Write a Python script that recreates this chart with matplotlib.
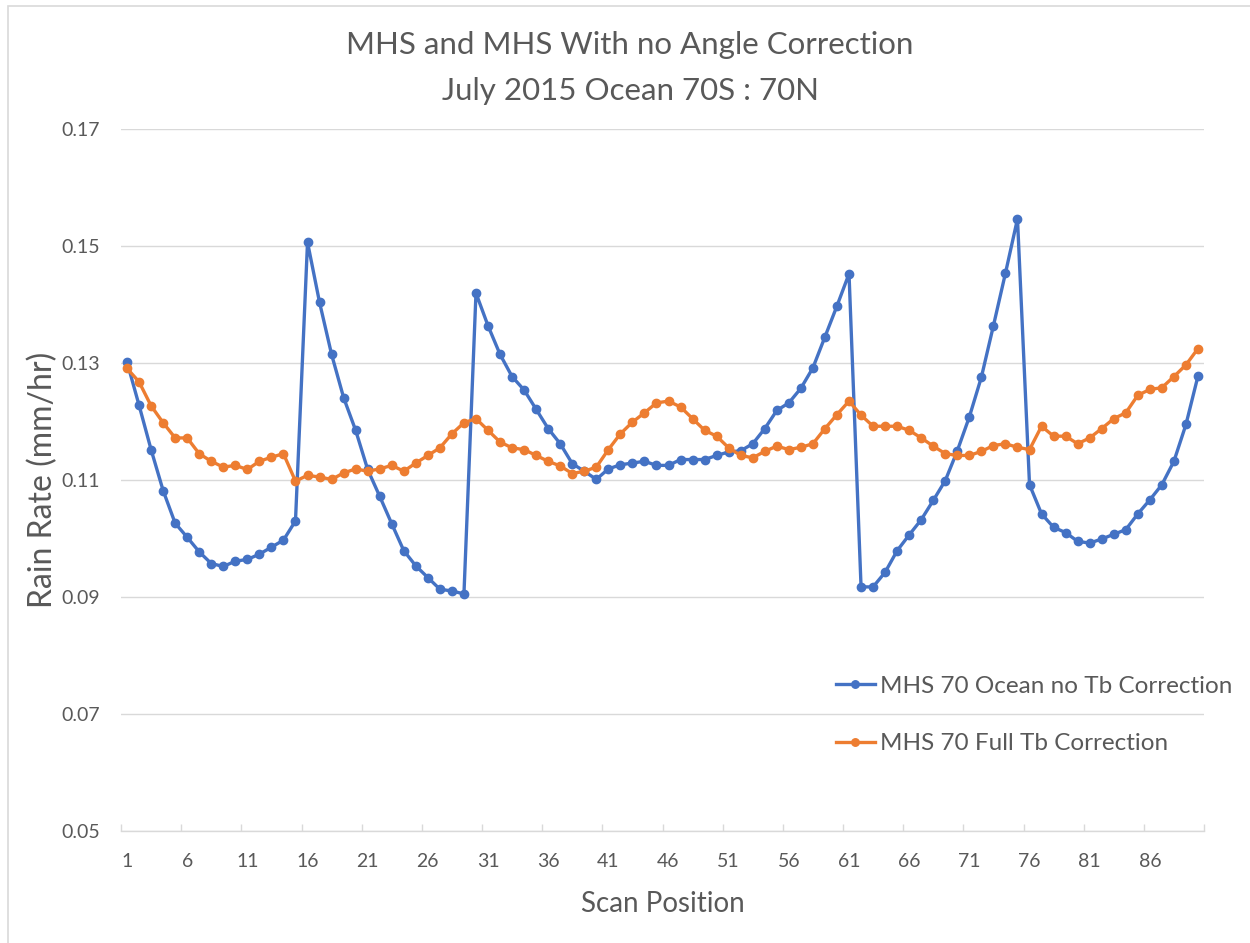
import numpy as np
import matplotlib
matplotlib.use('Agg')
import matplotlib.pyplot as plt

# data
scan_pos = np.arange(1, 91)
no_tb_corr = [
    0.1302, 0.1228, 0.1152, 0.1082, 0.1026, 0.1002, 0.0977, 0.0957, 0.0952, 0.0961,
    0.0964, 0.0973, 0.0985, 0.0997, 0.1030, 0.1507, 0.1404, 0.1315, 0.1241, 0.1185,
    0.1118, 0.1072, 0.1025, 0.0979, 0.0953, 0.0933, 0.0913, 0.0910, 0.0905, 0.1420,
    0.1364, 0.1315, 0.1277, 0.1254, 0.1221, 0.1188, 0.1162, 0.1128, 0.1115, 0.1101,
    0.1119, 0.1126, 0.1129, 0.1132, 0.1125, 0.1125, 0.1135, 0.1135, 0.1135, 0.1142,
    0.1148, 0.1150, 0.1162, 0.1188, 0.1219, 0.1232, 0.1257, 0.1292, 0.1345, 0.1398,
    0.1453, 0.0917, 0.0917, 0.0942, 0.0979, 0.1006, 0.1032, 0.1065, 0.1099, 0.1150,
    0.1208, 0.1276, 0.1364, 0.1454, 0.1547, 0.1092, 0.1042, 0.1019, 0.1010, 0.0995,
    0.0992, 0.0999, 0.1007, 0.1015, 0.1042, 0.1066, 0.1092, 0.1132, 0.1195, 0.1278,
]
full_tb_corr = [
    0.1291, 0.1268, 0.1227, 0.1198, 0.1172, 0.1172, 0.1145, 0.1132, 0.1122, 0.1125,
    0.1118, 0.1132, 0.1139, 0.1145, 0.1098, 0.1108, 0.1105, 0.1101, 0.1112, 0.1119,
    0.1115, 0.1119, 0.1125, 0.1115, 0.1129, 0.1142, 0.1155, 0.1179, 0.1198, 0.1205,
    0.1185, 0.1165, 0.1155, 0.1152, 0.1142, 0.1132, 0.1124, 0.1111, 0.1115, 0.1122,
    0.1152, 0.1179, 0.1199, 0.1215, 0.1232, 0.1235, 0.1225, 0.1205, 0.1185, 0.1175,
    0.1155, 0.1142, 0.1138, 0.1149, 0.1158, 0.1152, 0.1156, 0.1162, 0.1188, 0.1212,
    0.1235, 0.1211, 0.1192, 0.1192, 0.1192, 0.1185, 0.1172, 0.1158, 0.1145, 0.1142,
    0.1142, 0.1149, 0.1159, 0.1162, 0.1156, 0.1152, 0.1192, 0.1175, 0.1175, 0.1162,
    0.1172, 0.1188, 0.1205, 0.1215, 0.1245, 0.1255, 0.1258, 0.1277, 0.1297, 0.1325,
]
xtick_labels = [str(i) for i in range(1, 91, 5)]
yticks = [0.05, 0.07, 0.09, 0.11, 0.13, 0.15, 0.17]

plt.rcParams['font.family'] = ['Lato', 'DejaVu Sans']
txt = '#595959'
grid = '#D9D9D9'

fig = plt.figure(figsize=(12.5, 9.43), dpi=100)
ax = fig.add_axes([0.0968, 0.1193, 0.8664, 0.7434])

# chart border
fig.patches.append(plt.Rectangle((8 / 1250, -0.01), 1.02, 1 - 6 / 943 + 0.01,
                                 transform=fig.transFigure, fill=False,
                                 edgecolor=grid, linewidth=1.2))

ax.plot(scan_pos, no_tb_corr, color='#4472C4', lw=2.4, marker='o', ms=6,
        label='MHS 70 Ocean no Tb Correction')
ax.plot(scan_pos, full_tb_corr, color='#ED7D31', lw=2.4, marker='o', ms=6,
        label='MHS 70 Full Tb Correction')

ax.set_xlim(0.5, 90.5)
ax.set_ylim(0.05, 0.17)
ax.set_yticks(yticks)
ax.set_yticklabels([f'{v:.2f}' for v in yticks])
ax.set_xticks(range(1, 91, 5))
ax.set_xticklabels(xtick_labels)
ax.set_xticks(np.arange(0.5, 91, 5), minor=True)
ax.tick_params(axis='x', which='major', length=0, pad=16, labelsize=14, labelcolor=txt)
ax.tick_params(axis='x', which='minor', length=5, direction='in', color=grid, width=1)
ax.tick_params(axis='y', length=0, pad=15, labelsize=14, labelcolor=txt)
ax.grid(axis='y', color=grid, lw=1)
ax.set_axisbelow(True)
for s in ['top', 'right', 'left']:
    ax.spines[s].set_visible(False)
ax.spines['bottom'].set_color(grid)
ax.spines['bottom'].set_linewidth(1)

ax.set_xlabel('Scan Position', fontsize=20, color=txt, labelpad=15)
ax.set_ylabel('Rain Rate (mm/hr)', fontsize=23, color=txt, labelpad=2)

fig.text(0.504, 0.952, 'MHS and MHS With no Angle Correction', ha='center', va='center',
         fontsize=22.5, color=txt)
fig.text(0.504, 0.904, 'July 2015 Ocean 70S : 70N', ha='center', va='center',
         fontsize=22.5, color=txt)

ax.legend(loc='upper left', bbox_to_anchor=(0.64, 0.252), frameon=False,
          fontsize=17.5, labelcolor=txt, handlelength=1.6, handletextpad=0.2,
          labelspacing=1.5, markerscale=0.9)

plt.savefig('out.png', dpi=100)
